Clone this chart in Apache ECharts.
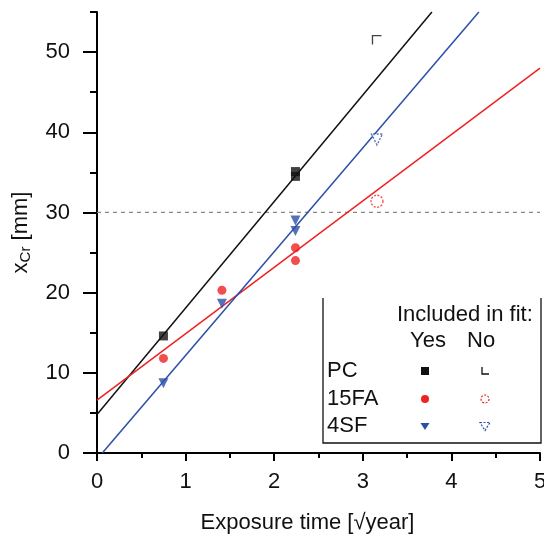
<!DOCTYPE html>
<html><head><meta charset="utf-8">
<script src="https://cdn.jsdelivr.net/npm/echarts@6/dist/echarts.min.js"></script>
<style>html,body{margin:0;padding:0;background:#fff}#c{width:544px;height:537px}</style>
</head><body><div id="c"></div>
<script>
// ---- data ----
const xTicks = [0, 1, 2, 3, 4, 5];
const yMajorTicks = [0, 10, 20, 30, 40, 50];
const yMinorTicks = [5, 15, 25, 35, 45, 55];
const pcFit = [[0.75, 14.6], [2.24, 34.5], [2.24, 35.1]];
const pcOut = [[3.16, 51.5]];
const faFit = [[0.75, 11.8], [1.41, 20.3], [2.24, 25.6], [2.24, 24.0]];
const faOut = [[3.16, 31.4]];
const sfFit = [[0.75, 8.7], [1.41, 18.6], [2.24, 29.0], [2.24, 27.7]];
const sfOut = [[3.16, 39.1]];
const pcLine = [[0, 4.8], [3.78, 55]];
const faLine = [[0, 6.6], [5, 48.0]];
const sfLine = [[0.06, 0], [4.31, 55]];
const refLine = [[0, 30], [5, 30]];
const legendRows = ['PC', '15FA', '4SF'];

const FONT = 'Liberation Sans';
const FS = 22;
const BLACK = '#111', RED = '#ee2222', BLUE = '#2b4fa8';
const chart = echarts.init(document.getElementById('c'));
const lineS = (data, color, w, dash) => ({type: 'line', data, symbol: 'none', silent: true, clip: true,
  lineStyle: {color, width: w, type: dash || 'solid'}, z: 2});
const ptS = (data, symbol, size, color, rot, hollow, z) => ({type: 'scatter', data, symbol, symbolSize: size,
  symbolRotate: rot || 0, z: z || 5,
  itemStyle: hollow ? {color: '#fff', borderColor: color, borderWidth: 1.3, borderType: hollow === 'dash' ? [2, 1.5] : 'solid'} : {color}});

const axisCommon = {
  axisLine: {show: true, lineStyle: {color: '#000', width: 2}},
  splitLine: {show: false},
};
const legendX = 327, symX1 = 425, symX2 = 485, rowY = [371, 399, 426];
const tstyle = (t, x, y) => ({type: 'text', x: x, y: y, style: {text: t, font: FS + 'px ' + FONT, fill: '#111', verticalAlign: 'middle', align: 'left'}});
const gr = [
  {type: 'polyline', shape: {points: [[323, 298], [323, 443], [541, 443], [541, 298]]}, style: {stroke: '#111', lineWidth: 1.3, fill: null}},
  tstyle('Included in fit:', 397, 315), tstyle('Yes', 410, 341), tstyle('No', 467, 341),
  tstyle(legendRows[0], legendX, rowY[0]), tstyle(legendRows[1], legendX, rowY[1]), tstyle(legendRows[2], legendX, rowY[2]),
  {type: 'rect', shape: {x: symX1 - 4, y: rowY[0] - 4, width: 8, height: 8}, style: {fill: BLACK}},
  {type: 'polyline', shape: {points: [[symX2 - 3, rowY[0] - 4], [symX2 - 3, rowY[0] + 3], [symX2 + 4, rowY[0] + 3]]}, style: {stroke: BLACK, lineWidth: 1.3, fill: null}},
  {type: 'circle', shape: {cx: symX1, cy: rowY[1], r: 4}, style: {fill: RED}},
  {type: 'circle', shape: {cx: symX2, cy: rowY[1], r: 4}, style: {fill: null, stroke: RED, lineWidth: 1.2, lineDash: [2, 1.5]}},
  {type: 'polygon', shape: {points: [[symX1 - 4.5, rowY[2] - 3], [symX1 + 4.5, rowY[2] - 3], [symX1, rowY[2] + 4]]}, style: {fill: BLUE}},
  {type: 'polygon', shape: {points: [[symX2 - 5, rowY[2] - 3.5], [symX2 + 5, rowY[2] - 3.5], [symX2, rowY[2] + 4.5]]}, style: {fill: null, stroke: BLUE, lineWidth: 1.2, lineDash: [2, 1.5]}},
];

chart.setOption({
  animation: false,
  backgroundColor: '#fff',
  textStyle: {fontFamily: FONT},
  grid: {left: 97, right: 4, top: 12, bottom: 84, containLabel: false, outerBoundsMode: 'none'},
  xAxis: Object.assign({}, axisCommon, {
    type: 'value', min: 0, max: 5, interval: 1,
    axisTick: {show: true, inside: false, length: 8, lineStyle: {color: '#000', width: 2}},
    minorTick: {show: true, splitNumber: 2, length: 5, lineStyle: {color: '#000', width: 2}},
    axisLabel: {fontSize: FS, color: '#111', margin: 18, fontFamily: FONT,
      formatter: v => xTicks.includes(v) ? String(v) : ''},
    name: 'Exposure time [\u221Ayear]', nameLocation: 'middle', nameGap: 59,
    nameTextStyle: {fontSize: FS, color: '#111', fontFamily: FONT, padding: [0, 22, 0, 0]},
  }),
  yAxis: [
    Object.assign({}, axisCommon, {
      type: 'value', min: 0, max: 55,
      axisTick: {show: true, inside: false, length: 14, lineStyle: {color: '#000', width: 2}, customValues: yMajorTicks},
      axisLabel: {fontSize: FS, color: '#111', margin: 27, fontFamily: FONT, customValues: yMajorTicks},
      name: 'x{s|Cr} [mm]', nameLocation: 'middle', nameGap: 64, nameRotate: 90,
      nameTextStyle: {fontSize: FS, color: '#111', fontFamily: FONT,
        rich: {s: {fontSize: 15, verticalAlign: 'bottom', padding: [10, 0, 0, 0], color: '#111', fontFamily: FONT}}},
    }),
    {
      type: 'value', min: 0, max: 55, position: 'left',
      axisLine: {show: false}, splitLine: {show: false},
      axisTick: {show: true, inside: false, length: 7, lineStyle: {color: '#000', width: 2}, customValues: yMinorTicks},
      axisLabel: {show: false},
    }
  ],
  series: [
    lineS(refLine, '#888', 1.3, [4, 4]),
    lineS(pcLine, BLACK, 1.5),
    lineS(faLine, RED, 1.5),
    lineS(sfLine, BLUE, 1.5),
    ptS(pcFit, 'rect', 9, BLACK),
    ptS(faFit, 'circle', 9, RED),
    ptS(sfFit, 'triangle', 10, BLUE, 180),
    ptS(pcOut, 'path://M0,10 L0,0 L10,0', 9, BLACK, 0, 'solid'),
    ptS(faOut, 'circle', 12, RED, 0, 'dash'),
    ptS(sfOut, 'triangle', 11, BLUE, 180, 'dash'),
  ],
  graphic: gr,
});
</script></body></html>
